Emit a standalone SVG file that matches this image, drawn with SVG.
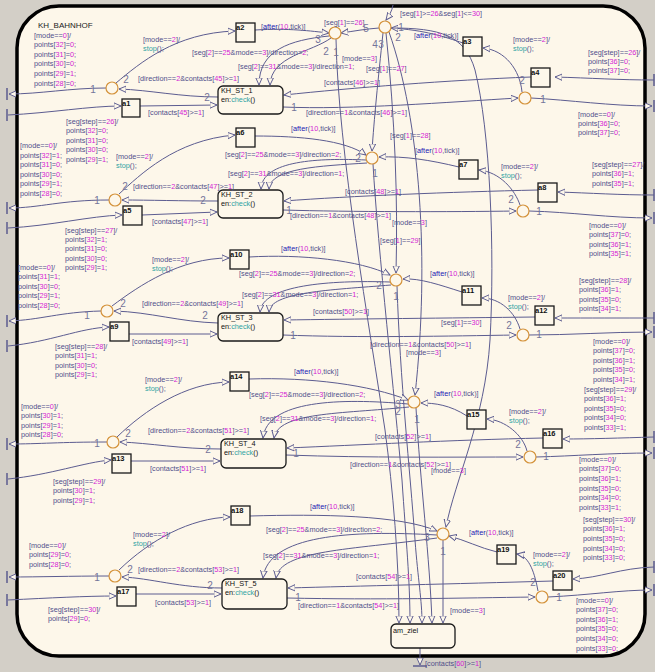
<svg xmlns="http://www.w3.org/2000/svg" width="655" height="672" viewBox="0 0 655 672">
<defs>
<marker id="ah" viewBox="0 0 10 10" refX="9" refY="5" markerWidth="8" markerHeight="8" orient="auto" markerUnits="userSpaceOnUse"><path d="M0,1 L9,5 L0,9 Z" fill="#fdf7ea" stroke="#5c5c90" stroke-width="1.2"/></marker>
<style>
.ln{fill:none;stroke:#5c5c90;stroke-width:1}
.ar{marker-end:url(#ah)}
.j{fill:#fdf7ea;stroke:#d4923a;stroke-width:1.2}
.bx{fill:#fdf7ea;stroke:#1a1a1a;stroke-width:1.3}
.pt{stroke:#5c5c90;stroke-width:1.5;fill:none}
text{font-family:"Liberation Sans",Arial,sans-serif}
.t{font-size:7.3px;fill:#50508a}
.m{fill:#d41cd4}
.s{fill:#2fa3a3}
.a{fill:#2020b4}
.o{font-size:10px;fill:#74749a;text-anchor:middle}
.nl{font-size:7.5px;font-weight:bold;fill:#111}
.sl{font-size:7.3px;fill:#111}
</style>
</defs>
<rect x="0" y="0" width="655" height="672" fill="#d3cfc7"/>
<rect id="KH_BAHNHOF" x="17" y="6" width="628" height="650" rx="42" fill="#fdf7ea" stroke="#000" stroke-width="3.5"/>
<text x="38" y="28" style="font-size:8px;fill:#222">KH_BAHNHOF</text>

<g id="connectors">
<!-- row 1 -->
<path class="ln ar" d="M106,88 C70,88 40,94 9,94"/>
<path class="ln ar" d="M8,115 C50,113 90,106 121,106"/>
<path class="ln ar" d="M140,106 L217,105"/>
<path class="ln ar" d="M218,97 C180,97 150,90 119,89"/>
<path class="ln ar" d="M116,83 C140,63 175,33 235,31"/>
<path class="ln ar" d="M255,30 C290,28 310,31 329,33"/>
<path class="ln ar" d="M329,36 C290,40 259,50 259,85"/>
<path class="ln ar" d="M331,38 C312,52 271,56 270,85"/>
<path class="ln ar" d="M336,39 C338,150 370,330 385,430 C393,490 399,560 399,623"/>
<path class="ln ar" d="M531,77 C450,80 350,88 284,95"/>
<path class="ln ar" d="M283,107 C350,110 450,102 518,98"/>
<path class="ln ar" d="M654,80 C620,80 590,78 555,77"/>
<path class="ln ar" d="M531,98 C570,100 610,106 652,106"/>
<path class="ln ar" d="M522,92 C520,70 505,50 483,48"/>
<path class="ln ar" d="M463,43 C445,37 425,30 391,28"/>
<path class="ln ar" d="M393,5 C392,11 389,16 386,20"/>
<path class="ln ar" d="M379,28 C365,29 355,31 341,33"/>
<path class="ln ar" d="M383,33 C378,80 374,120 372,151"/>
<path class="ln ar" d="M386,33 C395,120 398,200 396,273"/>
<path class="ln ar" d="M389,32 C420,120 430,260 415,395"/>
<path class="ln ar" d="M391,28 C440,28 465,35 475,70 C490,130 495,250 490,340 C485,420 455,480 446,527"/>
<!-- row 2 -->
<path class="ln ar" d="M109,200 C60,200 40,208 9,208"/>
<path class="ln ar" d="M8,228 C50,226 90,216 122,215"/>
<path class="ln ar" d="M142,215 L217,212"/>
<path class="ln ar" d="M218,201 C180,201 150,200 122,200"/>
<path class="ln ar" d="M119,194 C140,175 175,140 235,135"/>
<path class="ln ar" d="M255,136 C300,136 345,140 366,155"/>
<path class="ln ar" d="M366,160 C320,158 262,160 261,189"/>
<path class="ln ar" d="M367,163 C320,166 270,168 269,189"/>
<path class="ln ar" d="M373,164 C378,250 395,400 402,480 C406,540 410,580 410,623"/>
<path class="ln ar" d="M459,167 C430,160 405,156 379,157"/>
<path class="ln ar" d="M654,195 C620,195 590,193 558,192"/>
<path class="ln ar" d="M538,190 C450,192 350,196 284,201"/>
<path class="ln ar" d="M283,210 C350,212 450,212 516,211"/>
<path class="ln ar" d="M529,211 C570,212 610,218 652,218"/>
<path class="ln ar" d="M520,205 C515,190 500,172 479,170"/>
<!-- row 3 -->
<path class="ln ar" d="M101,311 C60,312 40,320 9,321"/>
<path class="ln ar" d="M8,346 C50,342 80,328 109,327"/>
<path class="ln ar" d="M129,334 L217,334"/>
<path class="ln ar" d="M218,323 C180,322 150,312 114,311"/>
<path class="ln ar" d="M112,306 C140,285 180,258 229,258"/>
<path class="ln ar" d="M249,257 C300,254 360,260 390,275"/>
<path class="ln ar" d="M390,282 C330,280 262,285 260,312"/>
<path class="ln ar" d="M391,285 C330,290 270,292 269,312"/>
<path class="ln ar" d="M397,286 C400,380 410,470 415,540 C418,580 422,600 422,623"/>
<path class="ln ar" d="M462,292 C440,285 420,278 403,279"/>
<path class="ln ar" d="M654,318 C620,318 590,318 555,318"/>
<path class="ln ar" d="M535,317 C450,318 350,319 284,320"/>
<path class="ln ar" d="M283,335 C360,338 450,336 516,335"/>
<path class="ln ar" d="M529,335 C570,335 610,332 652,332"/>
<path class="ln ar" d="M520,329 C515,312 500,298 482,298"/>
<!-- row 4 -->
<path class="ln ar" d="M107,442 C60,442 40,444 9,444"/>
<path class="ln ar" d="M8,479 C50,475 85,462 111,460"/>
<path class="ln ar" d="M131,461 L220,461"/>
<path class="ln ar" d="M221,449 C180,449 150,443 120,442"/>
<path class="ln ar" d="M117,437 C145,410 185,383 229,382"/>
<path class="ln ar" d="M249,379 C310,377 370,385 408,400"/>
<path class="ln ar" d="M408,404 C340,398 267,400 263,438"/>
<path class="ln ar" d="M409,407 C340,414 278,412 274,438"/>
<path class="ln ar" d="M416,408 C420,480 430,560 432,623"/>
<path class="ln ar" d="M467,416 C450,405 435,403 421,403"/>
<path class="ln ar" d="M654,437 C620,438 590,439 563,439"/>
<path class="ln ar" d="M543,438 C450,440 360,445 287,448"/>
<path class="ln ar" d="M286,455 C370,458 450,457 523,457"/>
<path class="ln ar" d="M536,457 C575,456 610,453 652,453"/>
<path class="ln ar" d="M527,451 C523,435 505,420 487,419"/>
<!-- row 5 -->
<path class="ln ar" d="M109,576 C70,576 40,577 9,577"/>
<path class="ln ar" d="M8,600 C50,598 85,596 116,596"/>
<path class="ln ar" d="M136,594 L221,594"/>
<path class="ln ar" d="M222,588 C180,588 150,578 122,577"/>
<path class="ln ar" d="M119,570 C150,540 190,518 230,517"/>
<path class="ln ar" d="M250,516 C320,514 400,515 437,531"/>
<path class="ln ar" d="M437,535 C350,530 268,535 263,578"/>
<path class="ln ar" d="M437,538 C350,550 280,550 276,578"/>
<path class="ln ar" d="M443,540 L443,623"/>
<path class="ln ar" d="M497,552 C480,548 465,540 449,536"/>
<path class="ln ar" d="M654,567 C620,568 600,578 573,579"/>
<path class="ln ar" d="M553,581 C450,584 360,586 288,588"/>
<path class="ln ar" d="M287,598 C380,600 460,598 535,597"/>
<path class="ln ar" d="M548,597 C590,595 620,590 652,590"/>
<path class="ln ar" d="M538,591 C535,575 530,556 517,554"/>
<!-- exit -->
<path class="ln ar" d="M420,648 L420,665"/>
<path class="pt" d="M413,666 L427,666"/>
<!-- ports -->
<path class="pt" d="M7,88 V100 M7,109 V121 M7,202 V214 M7,222 V234 M7,315 V327 M7,340 V352 M7,438 V450 M7,473 V485 M7,571 V583 M7,594 V606"/>
<path class="pt" d="M654,74 V86 M654,100 V112 M654,189 V201 M654,212 V224 M654,312 V324 M654,326 V338 M654,431 V443 M654,447 V459 M654,561 V573 M654,584 V596"/>
</g>

<!-- junctions -->
<g id="JL1"><circle class="j" cx="112" cy="88" r="6"/></g>
<g id="J1c"><circle class="j" cx="335" cy="33" r="6"/></g>
<g id="Jr"><circle class="j" cx="385" cy="27" r="6"/></g>
<g id="JR1"><circle class="j" cx="525" cy="98" r="6"/></g>
<g id="JL2"><circle class="j" cx="115" cy="200" r="6"/></g>
<g id="J2c"><circle class="j" cx="372" cy="158" r="6"/></g>
<g id="JR2"><circle class="j" cx="523" cy="211" r="6"/></g>
<g id="JL3"><circle class="j" cx="107" cy="311" r="6"/></g>
<g id="J3c"><circle class="j" cx="396" cy="280" r="6"/></g>
<g id="JR3"><circle class="j" cx="523" cy="335" r="6"/></g>
<g id="JL4"><circle class="j" cx="113" cy="442" r="6"/></g>
<g id="J4c"><circle class="j" cx="414" cy="402" r="6"/></g>
<g id="JR4"><circle class="j" cx="530" cy="457" r="6"/></g>
<g id="JL5"><circle class="j" cx="115" cy="576" r="6"/></g>
<g id="J5c"><circle class="j" cx="443" cy="534" r="6"/></g>
<g id="JR5"><circle class="j" cx="542" cy="597" r="6"/></g>

<!-- boxes -->
<g id="a1"><rect class="bx" x="122" y="99" width="18" height="18"/><text class="nl" x="122" y="106">a1</text></g>
<g id="a2"><rect class="bx" x="236" y="23" width="19" height="19"/><text class="nl" x="236" y="30">a2</text></g>
<g id="a3"><rect class="bx" x="463" y="37" width="19" height="19"/><text class="nl" x="463" y="44">a3</text></g>
<g id="a4"><rect class="bx" x="531" y="68" width="19" height="19"/><text class="nl" x="531" y="75">a4</text></g>
<g id="a5"><rect class="bx" x="123" y="206" width="19" height="19"/><text class="nl" x="123" y="213">a5</text></g>
<g id="a6"><rect class="bx" x="236" y="128" width="19" height="19"/><text class="nl" x="236" y="135">a6</text></g>
<g id="a7"><rect class="bx" x="459" y="160" width="19" height="19"/><text class="nl" x="459" y="167">a7</text></g>
<g id="a8"><rect class="bx" x="538" y="183" width="19" height="19"/><text class="nl" x="538" y="190">a8</text></g>
<g id="a9"><rect class="bx" x="110" y="322" width="19" height="19"/><text class="nl" x="110" y="329">a9</text></g>
<g id="a10"><rect class="bx" x="230" y="250" width="19" height="19"/><text class="nl" x="230" y="257">a10</text></g>
<g id="a11"><rect class="bx" x="462" y="286" width="19" height="19"/><text class="nl" x="462" y="293">a11</text></g>
<g id="a12"><rect class="bx" x="535" y="306" width="19" height="19"/><text class="nl" x="535" y="313">a12</text></g>
<g id="a13"><rect class="bx" x="112" y="454" width="19" height="19"/><text class="nl" x="112" y="461">a13</text></g>
<g id="a14"><rect class="bx" x="230" y="372" width="19" height="19"/><text class="nl" x="230" y="379">a14</text></g>
<g id="a15"><rect class="bx" x="467" y="410" width="19" height="19"/><text class="nl" x="467" y="417">a15</text></g>
<g id="a16"><rect class="bx" x="543" y="429" width="19" height="19"/><text class="nl" x="543" y="436">a16</text></g>
<g id="a17"><rect class="bx" x="117" y="587" width="19" height="19"/><text class="nl" x="117" y="594">a17</text></g>
<g id="a18"><rect class="bx" x="231" y="506" width="19" height="19"/><text class="nl" x="231" y="513">a18</text></g>
<g id="a19"><rect class="bx" x="497" y="545" width="19" height="19"/><text class="nl" x="497" y="552">a19</text></g>
<g id="a20"><rect class="bx" x="553" y="571" width="19" height="19"/><text class="nl" x="553" y="578">a20</text></g>

<!-- states -->
<g id="KH_ST_1"><rect class="bx" x="218" y="86" width="65" height="28" rx="5"/><text class="sl" x="221" y="92.6">KH_ST_1</text><text class="sl" x="221" y="101.6">en:<tspan class="s">check</tspan>()</text></g>
<g id="KH_ST_2"><rect class="bx" x="218" y="190" width="65" height="28" rx="5"/><text class="sl" x="221" y="196.6">KH_ST_2</text><text class="sl" x="221" y="205.6">en:<tspan class="s">check</tspan>()</text></g>
<g id="KH_ST_3"><rect class="bx" x="218" y="313" width="65" height="28" rx="5"/><text class="sl" x="221" y="319.6">KH_ST_3</text><text class="sl" x="221" y="328.6">en:<tspan class="s">check</tspan>()</text></g>
<g id="KH_ST_4"><rect class="bx" x="221" y="439" width="65" height="29" rx="5"/><text class="sl" x="224" y="445.6">KH_ST_4</text><text class="sl" x="224" y="454.6">en:<tspan class="s">check</tspan>()</text></g>
<g id="KH_ST_5"><rect class="bx" x="222" y="579" width="65" height="30" rx="5"/><text class="sl" x="225" y="585.6">KH_ST_5</text><text class="sl" x="225" y="594.6">en:<tspan class="s">check</tspan>()</text></g>
<g id="am_ziel"><rect class="bx" x="391" y="624" width="64" height="24" rx="5"/><text class="sl" x="393" y="633">am_ziel</text></g>

<g id="labels">
<!-- row 1 -->
<text class="t" x="34" y="37.6">[mode==<tspan class="m">0</tspan>]/<tspan x="34" dy="9.6">points[<tspan class="m">32</tspan>]=<tspan class="m">0</tspan>;</tspan><tspan x="34" dy="9.6">points[<tspan class="m">31</tspan>]=<tspan class="m">0</tspan>;</tspan><tspan x="34" dy="9.6">points[<tspan class="m">30</tspan>]=<tspan class="m">0</tspan>;</tspan><tspan x="34" dy="9.6">points[<tspan class="m">29</tspan>]=<tspan class="m">1</tspan>;</tspan><tspan x="34" dy="9.6">points[<tspan class="m">28</tspan>]=<tspan class="m">0</tspan>;</tspan></text>
<text class="t" x="143" y="41.6">[mode==<tspan class="m">2</tspan>]/<tspan x="143" dy="9.6" class="s">stop</tspan>();</text>
<text class="t" x="66" y="123.6">[seg[step]==<tspan class="m">26</tspan>]/<tspan x="66" dy="9.6">points[<tspan class="m">32</tspan>]=<tspan class="m">0</tspan>;</tspan><tspan x="66" dy="9.6">points[<tspan class="m">31</tspan>]=<tspan class="m">0</tspan>;</tspan><tspan x="66" dy="9.6">points[<tspan class="m">30</tspan>]=<tspan class="m">0</tspan>;</tspan><tspan x="66" dy="9.6">points[<tspan class="m">29</tspan>]=<tspan class="m">1</tspan>;</tspan></text>
<text class="t" x="138" y="80.6">[direction==<tspan class="m">2</tspan>&amp;contacts[<tspan class="m">45</tspan>]&gt;=<tspan class="m">1</tspan>]</text>
<text class="t" x="148" y="114.6">[contacts[<tspan class="m">45</tspan>]&gt;=<tspan class="m">1</tspan>]</text>
<text class="t" x="261" y="28.6">[<tspan class="a">after</tspan>(<tspan class="m">10</tspan>,tick)]</text>
<text class="t" x="192" y="54.6">[seg[<tspan class="m">2</tspan>]==<tspan class="m">25</tspan>&amp;mode==<tspan class="m">3</tspan>]/direction=<tspan class="m">2</tspan>;</text>
<text class="t" x="238" y="68.6">[seg[<tspan class="m">2</tspan>]==<tspan class="m">31</tspan>&amp;mode==<tspan class="m">3</tspan>]/direction=<tspan class="m">1</tspan>;</text>
<text class="t" x="342" y="60.6">[mode==<tspan class="m">3</tspan>]</text>
<text class="t" x="324" y="24.6">[seg[<tspan class="m">1</tspan>]==<tspan class="m">26</tspan>]</text>
<text class="t" x="400" y="15.6">[seg[<tspan class="m">1</tspan>]&gt;=<tspan class="m">26</tspan>&amp;seg[<tspan class="m">1</tspan>]&lt;=<tspan class="m">30</tspan>]</text>
<text class="t" x="366" y="70.6">[seg[<tspan class="m">1</tspan>]==<tspan class="m">27</tspan>]</text>
<text class="t" x="324" y="84.6">[contacts[<tspan class="m">46</tspan>]&gt;=<tspan class="m">1</tspan>]</text>
<text class="t" x="306" y="114.6">[direction==<tspan class="m">1</tspan>&amp;contacts[<tspan class="m">46</tspan>]&gt;=<tspan class="m">1</tspan>]</text>
<text class="t" x="414" y="37.6">[<tspan class="a">after</tspan>(<tspan class="m">10</tspan>,tick)]</text>
<text class="t" x="513" y="41.6">[mode==<tspan class="m">2</tspan>]/<tspan x="513" dy="9.6" class="s">stop</tspan>();</text>
<text class="t" x="588" y="54.6">[seg[step]==<tspan class="m">26</tspan>]/<tspan x="588" dy="9.3">points[<tspan class="m">36</tspan>]=<tspan class="m">0</tspan>;</tspan><tspan x="588" dy="9.3">points[<tspan class="m">37</tspan>]=<tspan class="m">0</tspan>;</tspan></text>
<text class="t" x="578" y="116.6">[mode==<tspan class="m">0</tspan>]/<tspan x="578" dy="9.3">points[<tspan class="m">36</tspan>]=<tspan class="m">0</tspan>;</tspan><tspan x="578" dy="9.3">points[<tspan class="m">37</tspan>]=<tspan class="m">0</tspan>;</tspan></text>
<!-- row 2 -->
<text class="t" x="291" y="130.6">[<tspan class="a">after</tspan>(<tspan class="m">10</tspan>,tick)]</text>
<text class="t" x="390" y="137.6">[seg[<tspan class="m">1</tspan>]==<tspan class="m">28</tspan>]</text>
<text class="t" x="415" y="152.6">[<tspan class="a">after</tspan>(<tspan class="m">10</tspan>,tick)]</text>
<text class="t" x="225" y="156.6">[seg[<tspan class="m">2</tspan>]==<tspan class="m">25</tspan>&amp;mode==<tspan class="m">3</tspan>]/direction=<tspan class="m">2</tspan>;</text>
<text class="t" x="228" y="175.6">[seg[<tspan class="m">2</tspan>]==<tspan class="m">31</tspan>&amp;mode==<tspan class="m">3</tspan>]/direction=<tspan class="m">1</tspan>;</text>
<text class="t" x="116" y="158.6">[mode==<tspan class="m">2</tspan>]/<tspan x="116" dy="9.6" class="s">stop</tspan>();</text>
<text class="t" x="20" y="148">[mode==<tspan class="m">0</tspan>]/<tspan x="20" dy="9.6">points[<tspan class="m">32</tspan>]=<tspan class="m">1</tspan>;</tspan><tspan x="20" dy="9.6">points[<tspan class="m">31</tspan>]=<tspan class="m">0</tspan>;</tspan><tspan x="20" dy="9.6">points[<tspan class="m">30</tspan>]=<tspan class="m">0</tspan>;</tspan><tspan x="20" dy="9.6">points[<tspan class="m">29</tspan>]=<tspan class="m">1</tspan>;</tspan><tspan x="20" dy="9.6">points[<tspan class="m">28</tspan>]=<tspan class="m">0</tspan>;</tspan></text>
<text class="t" x="133" y="188.6">[direction==<tspan class="m">2</tspan>&amp;contacts[<tspan class="m">47</tspan>]&gt;=<tspan class="m">1</tspan>]</text>
<text class="t" x="152" y="223.6">[contacts[<tspan class="m">47</tspan>]&gt;=<tspan class="m">1</tspan>]</text>
<text class="t" x="65" y="232.6">[seg[step]==<tspan class="m">27</tspan>]/<tspan x="65" dy="9.3">points[<tspan class="m">32</tspan>]=<tspan class="m">1</tspan>;</tspan><tspan x="65" dy="9.3">points[<tspan class="m">31</tspan>]=<tspan class="m">0</tspan>;</tspan><tspan x="65" dy="9.3">points[<tspan class="m">30</tspan>]=<tspan class="m">0</tspan>;</tspan><tspan x="65" dy="9.3">points[<tspan class="m">29</tspan>]=<tspan class="m">1</tspan>;</tspan></text>
<text class="t" x="345" y="193.6">[contacts[<tspan class="m">48</tspan>]&gt;=<tspan class="m">1</tspan>]</text>
<text class="t" x="290" y="217.6">[direction==<tspan class="m">1</tspan>&amp;contacts[<tspan class="m">48</tspan>]&gt;=<tspan class="m">1</tspan>]</text>
<text class="t" x="392" y="225">[mode==<tspan class="m">3</tspan>]</text>
<text class="t" x="380" y="242.6">[seg[<tspan class="m">1</tspan>]==<tspan class="m">29</tspan>]</text>
<text class="t" x="501" y="168.6">[mode==<tspan class="m">2</tspan>]/<tspan x="501" dy="9.3" class="s">stop</tspan>();</text>
<text class="t" x="592" y="167">[seg[step]==<tspan class="m">27</tspan>]/<tspan x="592" dy="9.3">points[<tspan class="m">36</tspan>]=<tspan class="m">1</tspan>;</tspan><tspan x="592" dy="9.3">points[<tspan class="m">35</tspan>]=<tspan class="m">1</tspan>;</tspan></text>
<text class="t" x="589" y="227.6">[mode==<tspan class="m">0</tspan>]/<tspan x="589" dy="9.6">points[<tspan class="m">37</tspan>]=<tspan class="m">0</tspan>;</tspan><tspan x="589" dy="9.6">points[<tspan class="m">36</tspan>]=<tspan class="m">1</tspan>;</tspan><tspan x="589" dy="9.6">points[<tspan class="m">35</tspan>]=<tspan class="m">1</tspan>;</tspan></text>
<!-- row 3 -->
<text class="t" x="18" y="269.6">[mode==<tspan class="m">0</tspan>]/<tspan x="18" dy="9.6">points[<tspan class="m">31</tspan>]=<tspan class="m">1</tspan>;</tspan><tspan x="18" dy="9.6">points[<tspan class="m">30</tspan>]=<tspan class="m">0</tspan>;</tspan><tspan x="18" dy="9.6">points[<tspan class="m">29</tspan>]=<tspan class="m">1</tspan>;</tspan><tspan x="18" dy="9.6">points[<tspan class="m">28</tspan>]=<tspan class="m">0</tspan>;</tspan></text>
<text class="t" x="152" y="261.6">[mode==<tspan class="m">2</tspan>]/<tspan x="152" dy="9.6" class="s">stop</tspan>();</text>
<text class="t" x="281" y="250.6">[<tspan class="a">after</tspan>(<tspan class="m">10</tspan>,tick)]</text>
<text class="t" x="239" y="275.6">[seg[<tspan class="m">2</tspan>]==<tspan class="m">25</tspan>&amp;mode==<tspan class="m">3</tspan>]/direction=<tspan class="m">2</tspan>;</text>
<text class="t" x="430" y="275.6">[<tspan class="a">after</tspan>(<tspan class="m">10</tspan>,tick)]</text>
<text class="t" x="579" y="282.6">[seg[step]==<tspan class="m">28</tspan>]/<tspan x="579" dy="9.6">points[<tspan class="m">36</tspan>]=<tspan class="m">1</tspan>;</tspan><tspan x="579" dy="9.6">points[<tspan class="m">35</tspan>]=<tspan class="m">0</tspan>;</tspan><tspan x="579" dy="9.6">points[<tspan class="m">34</tspan>]=<tspan class="m">1</tspan>;</tspan></text>
<text class="t" x="242" y="296.6">[seg[<tspan class="m">2</tspan>]==<tspan class="m">31</tspan>&amp;mode==<tspan class="m">3</tspan>]/direction=<tspan class="m">1</tspan>;</text>
<text class="t" x="508" y="299.6">[mode==<tspan class="m">2</tspan>]/<tspan x="508" dy="9.3" class="s">stop</tspan>();</text>
<text class="t" x="142" y="305.6">[direction==<tspan class="m">2</tspan>&amp;contacts[<tspan class="m">49</tspan>]&gt;=<tspan class="m">1</tspan>]</text>
<text class="t" x="313" y="313.6">[contacts[<tspan class="m">50</tspan>]&gt;=<tspan class="m">1</tspan>]</text>
<text class="t" x="441" y="324.6">[seg[<tspan class="m">1</tspan>]==<tspan class="m">30</tspan>]</text>
<text class="t" x="132" y="343.6">[contacts[<tspan class="m">49</tspan>]&gt;=<tspan class="m">1</tspan>]</text>
<text class="t" x="55" y="348.6">[seg[step]==<tspan class="m">28</tspan>]/<tspan x="55" dy="9.6">points[<tspan class="m">31</tspan>]=<tspan class="m">1</tspan>;</tspan><tspan x="55" dy="9.6">points[<tspan class="m">30</tspan>]=<tspan class="m">0</tspan>;</tspan><tspan x="55" dy="9.6">points[<tspan class="m">29</tspan>]=<tspan class="m">1</tspan>;</tspan></text>
<text class="t" x="370" y="346.6">[direction==<tspan class="m">1</tspan>&amp;contacts[<tspan class="m">50</tspan>]&gt;=<tspan class="m">1</tspan>]</text>
<text class="t" x="406" y="354.6">[mode==<tspan class="m">3</tspan>]</text>
<text class="t" x="593" y="343.6">[mode==<tspan class="m">0</tspan>]/<tspan x="593" dy="9.5">points[<tspan class="m">37</tspan>]=<tspan class="m">0</tspan>;</tspan><tspan x="593" dy="9.5">points[<tspan class="m">36</tspan>]=<tspan class="m">1</tspan>;</tspan><tspan x="593" dy="9.5">points[<tspan class="m">35</tspan>]=<tspan class="m">0</tspan>;</tspan><tspan x="593" dy="9.5">points[<tspan class="m">34</tspan>]=<tspan class="m">1</tspan>;</tspan></text>
<!-- row 4 -->
<text class="t" x="294" y="373.6">[<tspan class="a">after</tspan>(<tspan class="m">10</tspan>,tick)]</text>
<text class="t" x="145" y="381.6">[mode==<tspan class="m">2</tspan>]/<tspan x="145" dy="9.6" class="s">stop</tspan>();</text>
<text class="t" x="584" y="391.6">[seg[step]==<tspan class="m">29</tspan>]/<tspan x="584" dy="9.6">points[<tspan class="m">36</tspan>]=<tspan class="m">1</tspan>;</tspan><tspan x="584" dy="9.6">points[<tspan class="m">35</tspan>]=<tspan class="m">0</tspan>;</tspan><tspan x="584" dy="9.6">points[<tspan class="m">34</tspan>]=<tspan class="m">0</tspan>;</tspan><tspan x="584" dy="9.6">points[<tspan class="m">33</tspan>]=<tspan class="m">1</tspan>;</tspan></text>
<text class="t" x="434" y="395.6">[<tspan class="a">after</tspan>(<tspan class="m">10</tspan>,tick)]</text>
<text class="t" x="249" y="396.6">[seg[<tspan class="m">2</tspan>]==<tspan class="m">25</tspan>&amp;mode==<tspan class="m">3</tspan>]/direction=<tspan class="m">2</tspan>;</text>
<text class="t" x="21" y="408.6">[mode==<tspan class="m">0</tspan>]/<tspan x="21" dy="9.6">points[<tspan class="m">30</tspan>]=<tspan class="m">1</tspan>;</tspan><tspan x="21" dy="9.6">points[<tspan class="m">29</tspan>]=<tspan class="m">1</tspan>;</tspan><tspan x="21" dy="9.6">points[<tspan class="m">28</tspan>]=<tspan class="m">0</tspan>;</tspan></text>
<text class="t" x="509" y="413.6">[mode==<tspan class="m">2</tspan>]/<tspan x="509" dy="9.6" class="s">stop</tspan>();</text>
<text class="t" x="260" y="420.6">[seg[<tspan class="m">2</tspan>]==<tspan class="m">31</tspan>&amp;mode==<tspan class="m">3</tspan>]/direction=<tspan class="m">1</tspan>;</text>
<text class="t" x="148" y="432.6">[direction==<tspan class="m">2</tspan>&amp;contacts[<tspan class="m">51</tspan>]&gt;=<tspan class="m">1</tspan>]</text>
<text class="t" x="375" y="438.6">[contacts[<tspan class="m">52</tspan>]&gt;=<tspan class="m">1</tspan>]</text>
<text class="t" x="579" y="461.6">[mode==<tspan class="m">0</tspan>]/<tspan x="579" dy="9.7">points[<tspan class="m">37</tspan>]=<tspan class="m">0</tspan>;</tspan><tspan x="579" dy="9.7">points[<tspan class="m">36</tspan>]=<tspan class="m">1</tspan>;</tspan><tspan x="579" dy="9.7">points[<tspan class="m">35</tspan>]=<tspan class="m">0</tspan>;</tspan><tspan x="579" dy="9.7">points[<tspan class="m">34</tspan>]=<tspan class="m">0</tspan>;</tspan><tspan x="579" dy="9.7">points[<tspan class="m">33</tspan>]=<tspan class="m">1</tspan>;</tspan></text>
<text class="t" x="350" y="466.6">[direction==<tspan class="m">1</tspan>&amp;contacts[<tspan class="m">52</tspan>]&gt;=<tspan class="m">1</tspan>]</text>
<text class="t" x="150" y="470.6">[contacts[<tspan class="m">51</tspan>]&gt;=<tspan class="m">1</tspan>]</text>
<text class="t" x="431" y="472.6">[mode==<tspan class="m">3</tspan>]</text>
<text class="t" x="53" y="483.6">[seg[step]==<tspan class="m">29</tspan>]/<tspan x="53" dy="9.6">points[<tspan class="m">30</tspan>]=<tspan class="m">1</tspan>;</tspan><tspan x="53" dy="9.6">points[<tspan class="m">29</tspan>]=<tspan class="m">1</tspan>;</tspan></text>
<!-- row 5 -->
<text class="t" x="310" y="508.6">[<tspan class="a">after</tspan>(<tspan class="m">10</tspan>,tick)]</text>
<text class="t" x="583" y="521.6">[seg[step]==<tspan class="m">30</tspan>]/<tspan x="583" dy="9.7">points[<tspan class="m">36</tspan>]=<tspan class="m">1</tspan>;</tspan><tspan x="583" dy="9.7">points[<tspan class="m">35</tspan>]=<tspan class="m">0</tspan>;</tspan><tspan x="583" dy="9.7">points[<tspan class="m">34</tspan>]=<tspan class="m">0</tspan>;</tspan><tspan x="583" dy="9.7">points[<tspan class="m">33</tspan>]=<tspan class="m">0</tspan>;</tspan></text>
<text class="t" x="266" y="531.6">[seg[<tspan class="m">2</tspan>]==<tspan class="m">25</tspan>&amp;mode==<tspan class="m">3</tspan>]/direction=<tspan class="m">2</tspan>;</text>
<text class="t" x="469" y="534.6">[<tspan class="a">after</tspan>(<tspan class="m">10</tspan>,tick)]</text>
<text class="t" x="133" y="536.6">[mode==<tspan class="m">2</tspan>]/<tspan x="133" dy="9.6" class="s">stop</tspan>();</text>
<text class="t" x="29" y="547.6">[mode==<tspan class="m">0</tspan>]/<tspan x="29" dy="9.6">points[<tspan class="m">29</tspan>]=<tspan class="m">0</tspan>;</tspan><tspan x="29" dy="9.6">points[<tspan class="m">28</tspan>]=<tspan class="m">0</tspan>;</tspan></text>
<text class="t" x="533" y="556.6">[mode==<tspan class="m">2</tspan>]/<tspan x="533" dy="9.3" class="s">stop</tspan>();</text>
<text class="t" x="263" y="557.6">[seg[<tspan class="m">2</tspan>]==<tspan class="m">31</tspan>&amp;mode==<tspan class="m">3</tspan>]/direction=<tspan class="m">1</tspan>;</text>
<text class="t" x="138" y="571.6">[direction==<tspan class="m">2</tspan>&amp;contacts[<tspan class="m">53</tspan>]&gt;=<tspan class="m">1</tspan>]</text>
<text class="t" x="356" y="578.6">[contacts[<tspan class="m">54</tspan>]&gt;=<tspan class="m">1</tspan>]</text>
<text class="t" x="576" y="602.6">[mode==<tspan class="m">0</tspan>]/<tspan x="576" dy="9.6">points[<tspan class="m">37</tspan>]=<tspan class="m">0</tspan>;</tspan><tspan x="576" dy="9.6">points[<tspan class="m">36</tspan>]=<tspan class="m">1</tspan>;</tspan><tspan x="576" dy="9.6">points[<tspan class="m">35</tspan>]=<tspan class="m">0</tspan>;</tspan><tspan x="576" dy="9.6">points[<tspan class="m">34</tspan>]=<tspan class="m">0</tspan>;</tspan><tspan x="576" dy="9.6">points[<tspan class="m">33</tspan>]=<tspan class="m">0</tspan>;</tspan></text>
<text class="t" x="155" y="604.6">[contacts[<tspan class="m">53</tspan>]&gt;=<tspan class="m">1</tspan>]</text>
<text class="t" x="298" y="607.6">[direction==<tspan class="m">1</tspan>&amp;contacts[<tspan class="m">54</tspan>]&gt;=<tspan class="m">1</tspan>]</text>
<text class="t" x="450" y="612.6">[mode==<tspan class="m">3</tspan>]</text>
<text class="t" x="48" y="611.6">[seg[step]==<tspan class="m">30</tspan>]/<tspan x="48" dy="9.6">points[<tspan class="m">29</tspan>]=<tspan class="m">0</tspan>;</tspan></text>
<text class="t" x="425" y="665.6">[contacts[<tspan class="m">60</tspan>]&gt;=<tspan class="m">1</tspan>]</text>
<!-- order numbers -->
<text class="o" x="93" y="92.5">1</text><text class="o" x="126" y="82.5">2</text><text class="o" x="207" y="100.5">2</text><text class="o" x="294" y="110.5">1</text>
<text class="o" x="318" y="42.5">3</text><text class="o" x="326" y="54.5">2</text><text class="o" x="336" y="55.5">1</text>
<text class="o" x="366" y="31.5">5</text><text class="o" x="401" y="30.5">1</text><text class="o" x="375" y="47.5">4</text><text class="o" x="381" y="47.5">3</text><text class="o" x="398" y="40.5">2</text>
<text class="o" x="522" y="83.5">2</text><text class="o" x="543" y="102.5">1</text>
<text class="o" x="97" y="203.5">1</text><text class="o" x="125" y="189.5">2</text><text class="o" x="203" y="203.5">2</text><text class="o" x="289" y="213.5">1</text>
<text class="o" x="358" y="161.5">2</text><text class="o" x="375" y="176.5">1</text><text class="o" x="511" y="202.5">2</text><text class="o" x="539" y="214.5">1</text>
<text class="o" x="87" y="318.5">1</text><text class="o" x="123" y="306.5">2</text><text class="o" x="205" y="318.5">2</text><text class="o" x="293" y="338.5">1</text>
<text class="o" x="379" y="288.5">2</text><text class="o" x="396" y="299.5">1</text><text class="o" x="509" y="328.5">2</text><text class="o" x="539" y="337.5">1</text>
<text class="o" x="97" y="446.5">1</text><text class="o" x="128" y="436.5">2</text><text class="o" x="208" y="452.5">2</text><text class="o" x="296" y="456.5">1</text>
<text class="o" x="398" y="407.5">3</text><text class="o" x="398" y="414.5">2</text><text class="o" x="417" y="422.5">1</text><text class="o" x="518" y="447.5">2</text><text class="o" x="546" y="459.5">1</text>
<text class="o" x="97" y="580.5">1</text><text class="o" x="130" y="572.5">2</text><text class="o" x="210" y="588.5">2</text><text class="o" x="298" y="600.5">1</text>
<text class="o" x="427" y="540.5">3</text><text class="o" x="443" y="554.5">1</text><text class="o" x="533" y="585.5">2</text><text class="o" x="559" y="600.5">1</text>
</g>
</svg>
